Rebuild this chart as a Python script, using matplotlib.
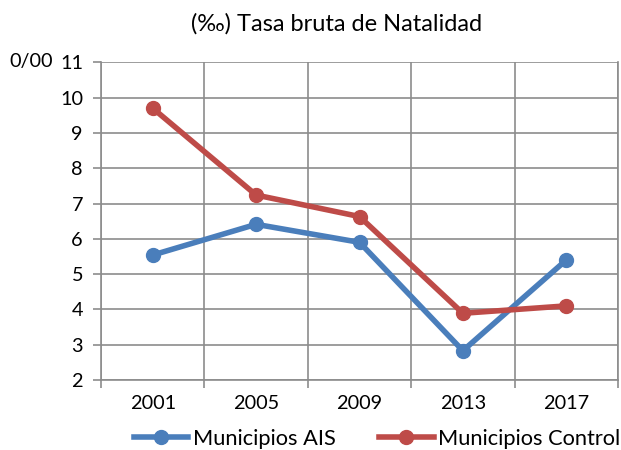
import matplotlib

matplotlib.use("Agg")

import matplotlib.pyplot as plt
import numpy as np
from matplotlib.lines import Line2D

years = ["2001", "2005", "2009", "2013", "2017"]
ais = [5.54, 6.41, 5.90, 2.83, 5.40]
control = [9.70, 7.24, 6.63, 3.89, 4.10]

BLUE = "#4a7ebb"
RED = "#be4b48"
GRID = "#8c8c8c"

plt.rcParams["font.family"] = ["Lato", "DejaVu Sans"]

fig = plt.figure(figsize=(6.21, 4.5), dpi=100)
ax = fig.add_axes([101 / 621, 1 - 380 / 450, 517 / 621, (380 - 62.3) / 450])

x = np.arange(len(years))
ax.plot(x, ais, color=BLUE, lw=4, marker="o", ms=10, zorder=3, label="Municipios AIS")
ax.plot(x, control, color=RED, lw=4, marker="o", ms=10, zorder=4, label="Municipios Control")

ax.set_xlim(-0.5, len(years) - 0.5)
ax.set_ylim(2, 11)
ax.set_yticks(range(2, 12))
ax.set_xticks(x)
ax.set_xticklabels(years, fontsize=14.3)
ax.set_xticks(np.arange(-0.5, len(years)), minor=True)
ax.tick_params(axis="x", which="major", length=0, pad=11)
ax.tick_params(axis="x", which="minor", length=6, color=GRID, width=1.2)
ax.tick_params(axis="y", length=6, color=GRID, width=1.2, labelsize=14.3, pad=7)
for lbl in ax.get_yticklabels():
    lbl.set_color("black")

ax.grid(True, axis="y", color=GRID, lw=1.2, zorder=0)
ax.grid(True, axis="x", which="minor", color=GRID, lw=1.2, zorder=0)
for sp in ("left", "bottom", "right"):
    ax.spines[sp].set_color(GRID)
    ax.spines[sp].set_linewidth(1.2)
ax.spines["top"].set_visible(False)
ax.set_axisbelow(True)

fig.text(337 / 621, 1 - 24 / 450, "(‰) Tasa bruta de Natalidad", ha="center", va="center",
         fontsize=17)
fig.text(9 / 621, 1 - 62 / 450, "0/00", ha="left", va="center", fontsize=14.3)

handles = [
    Line2D([0], [0], color=BLUE, lw=4, marker="o", ms=10),
    Line2D([0], [0], color=RED, lw=4, marker="o", ms=10),
]
fig.legend(handles, ["Municipios AIS", "Municipios Control"], loc="center",
           bbox_to_anchor=(377 / 621, 1 - 439 / 450), ncol=2, frameon=False,
           fontsize=15.7, handlelength=2.5, handletextpad=0.2, columnspacing=2.0,
           borderpad=0, borderaxespad=0)

fig.savefig("out.png", dpi=100)
